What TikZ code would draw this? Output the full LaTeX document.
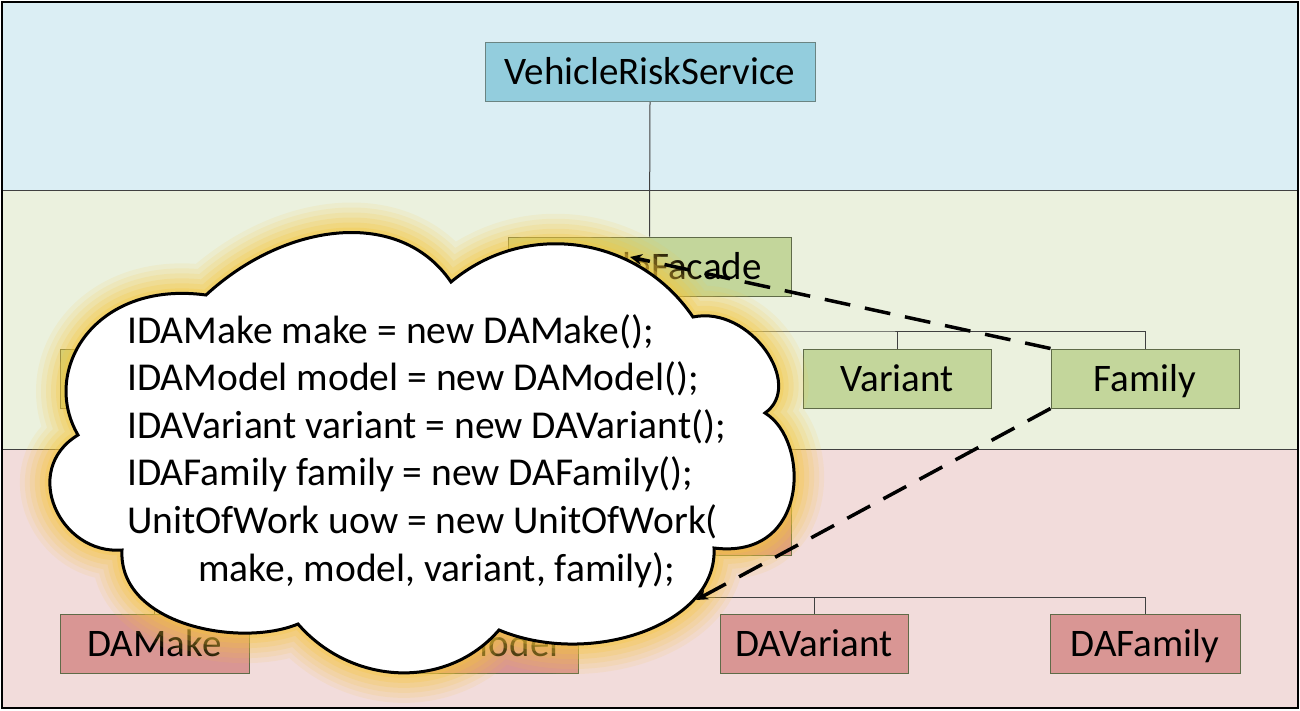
\documentclass[tikz,border=0pt]{standalone}
\usepackage{fontspec}
\setmainfont{Carlito}
\usetikzlibrary{arrows.meta}
\definecolor{bandblue}{HTML}{DBEEF4}
\definecolor{bandgreen}{HTML}{EBF1DE}
\definecolor{bandred}{HTML}{F2DCDB}
\definecolor{boxblue}{HTML}{93CDDD}
\definecolor{boxgreen}{HTML}{C3D69B}
\definecolor{boxred}{HTML}{D99694}
\definecolor{borderblue}{HTML}{6A8482}
\definecolor{borderolive}{HTML}{5F6B48}
\definecolor{connline}{HTML}{404040}
\definecolor{glow}{HTML}{F7C63A}
\tikzset{
  boxbase/.style={draw, line width=1pt, inner sep=0pt, text height=25.5pt, text depth=0pt,
    minimum height=59pt, font=\fontsize{39}{47}\selectfont},
  bluebox/.style={boxbase, fill=boxblue, draw=borderblue},
  greenbox/.style={boxbase, fill=boxgreen, draw=borderolive},
  redbox/.style={boxbase, fill=boxred, draw=borderolive},
  conn/.style={draw=connline, line width=1pt},
  dashlink/.style={line width=3.5pt, dash pattern=on 26pt off 15pt, -{Stealth[length=12pt,width=11pt]}},
  codeline/.style={anchor=base west, inner sep=0pt, font=\fontsize{39.5}{47}\selectfont}
}
\def\cloudpath{(206,295) .. controls (285,222) and (400,207) .. (451,282)
  .. controls (526,219) and (638,236) .. (693,317)
  .. controls (750,305) and (805,385) .. (765,413)
  .. controls (810,440) and (810,560) .. (714,548)
  .. controls (718,625) and (590,668) .. (499,630)
  .. controls (446,691) and (351,685) .. (298,624)
  .. controls (240,648) and (118,625) .. (122,550)
  .. controls (60,555) and (20,470) .. (78,435)
  .. controls (40,370) and (95,280) .. (206,295) -- cycle}
\begin{document}
\begin{tikzpicture}[x=1pt,y=-1pt]
\useasboundingbox (0,0) rectangle (1300,710);
% bands
\fill[bandblue] (1,1) rectangle (1298,190);
\fill[bandgreen] (1,190) rectangle (1298,449);
\fill[bandred] (1,449) rectangle (1298,708);
\draw[connline, line width=1pt] (1,190) -- (1298,190);
\draw[connline, line width=1pt] (1,449) -- (1298,449);
% nodes
\node[bluebox, minimum width=330pt] (vrs) at (650,72) {VehicleRiskService};
\node[greenbox, minimum width=283pt] (fac) at (649.5,266.5) {VehicleFacade};
\node[greenbox, minimum width=188pt] (make) at (154,378.5) {};
\node[greenbox, minimum width=188pt] (model) at (402,378.5) {};
\node[greenbox, minimum width=188pt] (var) at (897,378.5) {Variant};
\node[greenbox, minimum width=188pt] (fam) at (1145,378.5) {Family};
\node[redbox, minimum width=283pt] (uow) at (649.5,525.5) {};
\node[redbox, minimum width=189pt] (damake) at (154.5,643.5) {DAMake};
\node[redbox, minimum width=188pt] (damodel) at (484,643.5) {DAModel};
\node[redbox, minimum width=188pt] (davar) at (814,643.5) {DAVariant};
\node[redbox, minimum width=190pt] (dafam) at (1145,643.5) {DAFamily};
\coordinate (gb) at (650,331);
\coordinate (rb) at (650,597);
% connectors
\draw[conn] (vrs.south) -- (fac.north);
\draw[conn] (fac.south) -- (gb);
\draw[conn] (make.north) |- (gb) -| (fam.north);
\draw[conn] (model.north) -- (model.north |- gb);
\draw[conn] (var.north) -- (var.north |- gb);
\draw[conn] (uow.south) -- (rb);
\draw[conn] (damake.north) |- (rb) -| (dafam.north);
\draw[conn] (damodel.north) -- (damodel.north |- rb);
\draw[conn] (davar.north) -- (davar.north |- rb);
% glow
\foreach \w/\o in {60/0.10, 50/0.12, 40/0.14, 30/0.18, 20/0.22, 10/0.28} {
  \draw[draw=glow, line width=\w pt, opacity=\o, line join=round] \cloudpath;
}
% cloud
\fill[white] \cloudpath;
\draw[black, line width=3pt] \cloudpath;
\node[codeline] (l1) at (127,343) {IDAMake make = new DAMake();};
\node[codeline] (l2) at (127,390.6) {IDAModel model = new DAModel();};
\node[codeline] (l3) at (127,438.2) {IDAVariant variant = new DAVariant();};
\node[codeline] (l4) at (127,485.8) {IDAFamily family = new DAFamily();};
\node[codeline] (l5) at (127,533.4) {UnitOfWork uow = new UnitOfWork(};
\node[codeline] (l6) at (198,581) {make, model, variant, family);};
% dashed links
\coordinate (cl1) at (630,257);
\coordinate (cl2) at (696,600);
\draw[dashlink] (fam.north west) -- (cl1);
\draw[dashlink] (fam.south west) -- (cl2);
% frame
\draw[black, line width=2pt] (1.5,1.5) rectangle (1298,708);
\end{tikzpicture}
\end{document}
